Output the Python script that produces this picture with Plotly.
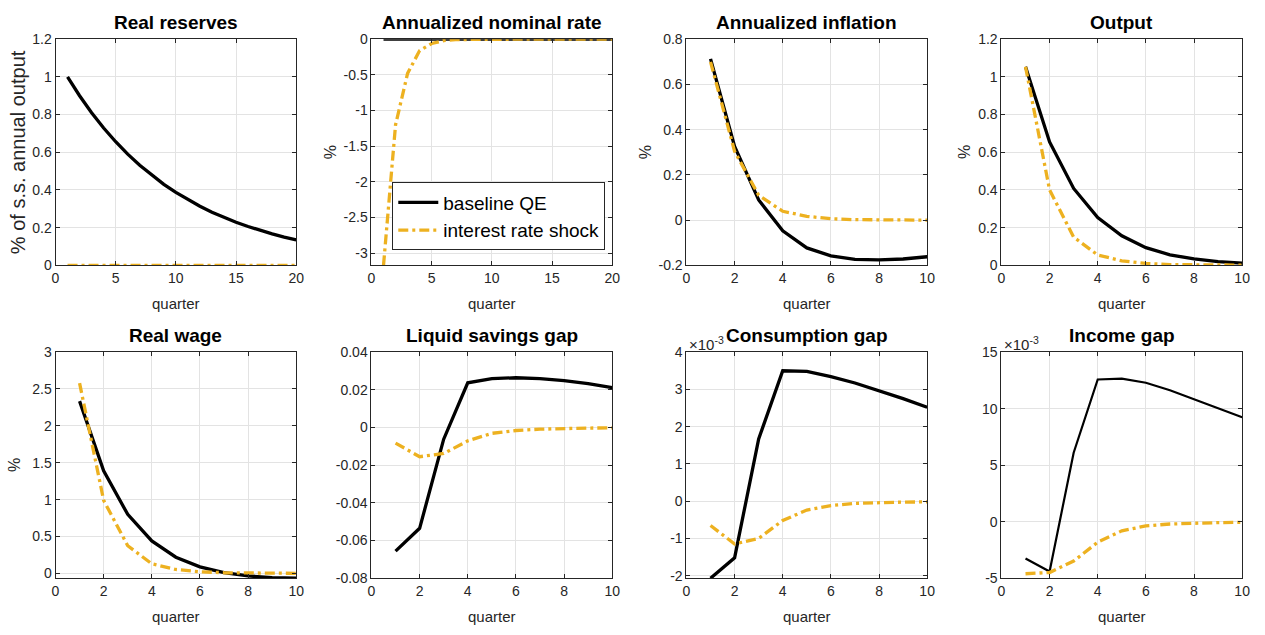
import plotly.graph_objects as go

# ---------------- data ----------------
quarters_20 = list(range(1, 21))
quarters_10 = list(range(1, 11))

real_reserves_qe = [1.0, 0.9, 0.81, 0.729, 0.656, 0.590, 0.531, 0.478, 0.430, 0.387,
                    0.349, 0.314, 0.282, 0.254, 0.229, 0.206, 0.185, 0.167, 0.150, 0.135]
real_reserves_rate = [0.0] * 20

nominal_rate_qe = [0.0] * 20
nominal_rate_rate = [-3.17, -1.2, -0.48, -0.16, -0.06, -0.02, -0.005, -0.002, -0.001, 0.0,
                     0.0, 0.0, 0.0, 0.0, 0.0, 0.0, 0.0, 0.0, 0.0, 0.0]

inflation_qe = [0.713, 0.326, 0.089, -0.047, -0.123, -0.158, -0.174, -0.176, -0.172, -0.162]
inflation_rate = [0.70, 0.304, 0.11, 0.039, 0.017, 0.006, 0.002, 0.001, 0.0, 0.0]

output_qe = [1.054, 0.655, 0.408, 0.253, 0.157, 0.094, 0.056, 0.034, 0.020, 0.012]
output_rate = [1.054, 0.40, 0.15, 0.055, 0.024, 0.010, 0.004, 0.002, 0.001, 0.001]

real_wage_qe = [2.335, 1.39, 0.80, 0.44, 0.22, 0.088, 0.01, -0.035, -0.057, -0.066]
real_wage_rate = [2.58, 0.99, 0.375, 0.13, 0.053, 0.022, 0.009, 0.004, 0.002, 0.001]

liquid_savings_qe = [-0.0656, -0.0535, -0.0062, 0.0237, 0.0259, 0.0264, 0.0259, 0.0249, 0.0233, 0.0212]
liquid_savings_rate = [-0.0083, -0.0155, -0.0138, -0.0071, -0.0031, -0.0016, -0.0009, -0.0005, -0.0003, -0.0002]

# in units of 1e-3
consumption_gap_qe = [-2.07, -1.52, 1.67, 3.50, 3.48, 3.34, 3.17, 2.97, 2.75, 2.52]
consumption_gap_rate = [-0.655, -1.15, -1.0, -0.52, -0.24, -0.12, -0.06, -0.035, -0.026, -0.02]

# in units of 1e-3
income_gap_qe = [-3.25, -4.4, 6.1, 12.58, 12.66, 12.29, 11.63, 10.85, 10.04, 9.24]
income_gap_rate = [-4.6, -4.49, -3.48, -1.81, -0.81, -0.37, -0.2, -0.12, -0.08, -0.05]

titles = ["Real reserves", "Annualized nominal rate", "Annualized inflation", "Output",
          "Real wage", "Liquid savings gap", "Consumption gap", "Income gap"]
ylabels = ["% of s.s. annual output", "%", "%", "%", "%", "", "", ""]
xlabel = "quarter"
legend_names = ["baseline QE", "interest rate shock"]

xticks_20 = [0, 5, 10, 15, 20]
xticks_10 = [0, 2, 4, 6, 8, 10]
yticks = [
    [0, 0.2, 0.4, 0.6, 0.8, 1.0, 1.2],
    [-3, -2.5, -2, -1.5, -1, -0.5, 0],
    [-0.2, 0, 0.2, 0.4, 0.6, 0.8],
    [0, 0.2, 0.4, 0.6, 0.8, 1.0, 1.2],
    [0, 0.5, 1, 1.5, 2, 2.5, 3],
    [-0.08, -0.06, -0.04, -0.02, 0, 0.02, 0.04],
    [-2, -1, 0, 1, 2, 3, 4],
    [-5, 0, 5, 10, 15],
]
ytick_text = [
    ["0", "0.2", "0.4", "0.6", "0.8", "1", "1.2"],
    ["-3", "-2.5", "-2", "-1.5", "-1", "-0.5", "0"],
    ["-0.2", "0", "0.2", "0.4", "0.6", "0.8"],
    ["0", "0.2", "0.4", "0.6", "0.8", "1", "1.2"],
    ["0", "0.5", "1", "1.5", "2", "2.5", "3"],
    ["-0.08", "-0.06", "-0.04", "-0.02", "0", "0.02", "0.04"],
    ["-2", "-1", "0", "1", "2", "3", "4"],
    ["-5", "0", "5", "10", "15"],
]
yranges = [[0, 1.2], [-3.17, 0], [-0.2, 0.8], [0, 1.2], [-0.066, 3],
           [-0.08, 0.04], [-2.07, 4], [-5, 15]]
exponent_panels = [6, 7]

panels = [
    (quarters_20, real_reserves_qe, real_reserves_rate),
    (quarters_20, nominal_rate_qe, nominal_rate_rate),
    (quarters_10, inflation_qe, inflation_rate),
    (quarters_10, output_qe, output_rate),
    (quarters_10, real_wage_qe, real_wage_rate),
    (quarters_10, liquid_savings_qe, liquid_savings_rate),
    (quarters_10, consumption_gap_qe, consumption_gap_rate),
    (quarters_10, income_gap_qe, income_gap_rate),
]

# ---------------- layout geometry ----------------
W, H = 1265, 635
col_left = [52, 371, 689, 1007]
ax_w = 243
row_top = [32, 353]
ax_h = 232

FONT = "Liberation Sans, Arial, Helvetica, sans-serif"
TXT = "#262626"
BLACK = "#000000"
ORANGE = "#EDB120"

def px_x(p):
    return p / W

def px_y(p):
    return 1 - p / H

fig = go.Figure()
annotations = []
layout_axes = {}

for i, (xs, qe, rate) in enumerate(panels):
    r, c = divmod(i, 4)
    n = i + 1
    xa = "x" if n == 1 else f"x{n}"
    ya = "y" if n == 1 else f"y{n}"
    x0 = col_left[c]
    y0 = row_top[r]
    black_w = 2.2 if i == 7 else 3.3
    fig.add_trace(go.Scatter(x=xs, y=qe, mode="lines", xaxis=xa, yaxis=ya,
                             line=dict(color=BLACK, width=black_w),
                             name=legend_names[0], showlegend=(i == 1)))
    fig.add_trace(go.Scatter(x=xs, y=rate, mode="lines", xaxis=xa, yaxis=ya,
                             line=dict(color=ORANGE, width=3.3, dash="10px,4px,3px,4px"),
                             name=legend_names[1], showlegend=(i == 1)))
    xt = xticks_20 if len(xs) == 20 else xticks_10
    common = dict(showline=True, linecolor=TXT, linewidth=1, mirror="ticks",
                  ticks="inside", ticklen=4, tickcolor=TXT, showgrid=True,
                  gridcolor="#e3e3e3", gridwidth=1, zeroline=False,
                  tickfont=dict(family=FONT, size=14, color=TXT))
    layout_axes["xaxis" if n == 1 else f"xaxis{n}"] = dict(
        common, domain=[px_x(x0), px_x(x0 + ax_w)], anchor=ya,
        range=[xt[0], xt[-1]], tickvals=xt, ticktext=[str(v) for v in xt])
    layout_axes["yaxis" if n == 1 else f"yaxis{n}"] = dict(
        common, domain=[px_y(y0 + ax_h), px_y(y0)], anchor=xa,
        range=yranges[i], tickvals=yticks[i], ticktext=ytick_text[i])

    cx = x0 + ax_w / 2
    # title
    annotations.append(dict(text=f"<b>{titles[i]}</b>", x=px_x(cx), y=px_y(y0 - 17),
                            xref="paper", yref="paper", showarrow=False,
                            xanchor="center", yanchor="middle",
                            font=dict(family=FONT, size=19, color=BLACK)))
    # x label
    annotations.append(dict(text=xlabel, x=px_x(cx), y=px_y(y0 + ax_h + 39),
                            xref="paper", yref="paper", showarrow=False,
                            xanchor="center", yanchor="middle",
                            font=dict(family=FONT, size=15, color=TXT)))
    # y label
    if ylabels[i]:
        big = i == 0
        lx = 14 if big else x0 - 42
        if c == 3:
            lx = x0 - 38
        annotations.append(dict(text=ylabels[i], x=px_x(lx), y=px_y(y0 + ax_h / 2),
                                xref="paper", yref="paper", showarrow=False,
                                textangle=-90, xanchor="center", yanchor="middle",
                                font=dict(family=FONT, size=20 if big else 16, color=TXT)))
    if i in exponent_panels:
        annotations.append(dict(text="×10<sup>-3</sup>", x=px_x(x0 + 1), y=px_y(y0 - 9),
                                xref="paper", yref="paper", showarrow=False,
                                xanchor="left", yanchor="middle",
                                font=dict(family=FONT, size=15, color=TXT)))

fig.update_layout(
    width=W, height=H,
    margin=dict(l=0, r=0, t=0, b=0),
    paper_bgcolor="white", plot_bgcolor="white",
    annotations=annotations,
    showlegend=True,
    legend=dict(x=px_x(392), y=px_y(179), xanchor="left", yanchor="top",
                bgcolor="white", bordercolor=TXT, borderwidth=1, itemwidth=40,
                font=dict(family=FONT, size=19, color=BLACK), tracegroupgap=0),
    **layout_axes,
)

fig.write_html("out.html")
